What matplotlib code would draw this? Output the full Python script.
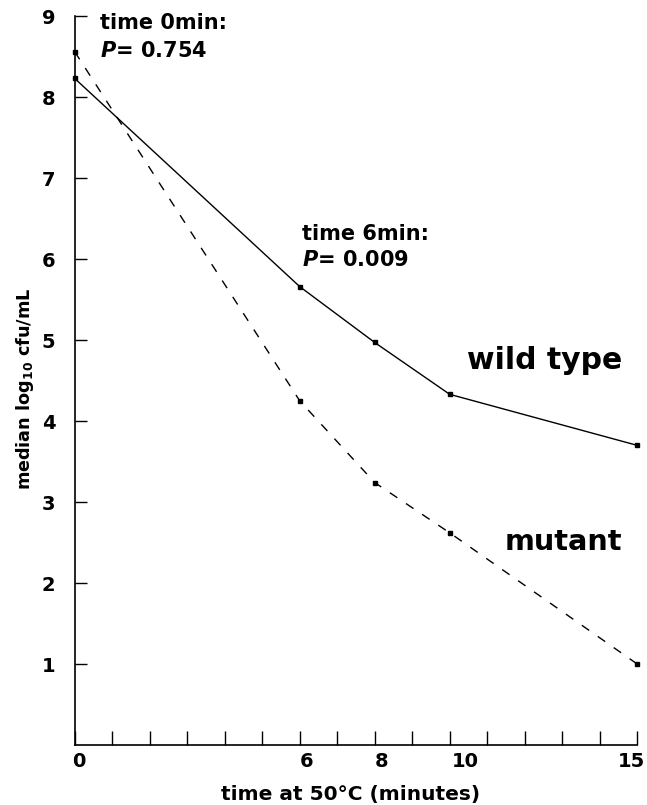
import matplotlib
matplotlib.use('Agg')
import matplotlib.pyplot as plt
import matplotlib.transforms as mtransforms

# median log10 cfu/mL
time_min = [0, 6, 8, 10, 15]
wild_type = [8.23, 5.66, 4.97, 4.33, 3.70]
mutant = [8.56, 4.25, 3.24, 2.62, 1.00]

x_ticks = list(range(16))
x_tick_labels = ['0', '', '', '', '', '', '6', '', '8', '', '10', '', '', '', '', '15']
y_ticks = [1, 2, 3, 4, 5, 6, 7, 8, 9]
y_tick_labels = ['1', '2', '3', '4', '5', '6', '7', '8', '9']

plt.rcParams['font.family'] = ['DejaVu Sans']
plt.rcParams['font.weight'] = 'bold'
plt.rcParams['mathtext.fontset'] = 'dejavusans'

fig = plt.figure(figsize=(6.47, 8.05), dpi=100)
ax = fig.add_axes([0.1155, 0.0745, 0.8694, 0.9055])

ax.plot(time_min, wild_type, '-', color='black', lw=1.0,
		marker='s', ms=3, clip_on=False)
ax.plot(time_min, mutant, color='black', lw=1.0, dashes=(6.5, 7.5),
		marker='s', ms=3, clip_on=False)

ax.set_xlim(0, 15)
ax.set_ylim(0, 9)
for side in ['top', 'right']:
	ax.spines[side].set_visible(False)
for side in ['left', 'bottom']:
	ax.spines[side].set_linewidth(1.2)

ax.set_xticks(x_ticks)
ax.set_xticklabels(x_tick_labels, fontsize=14, fontweight='bold')
ax.set_yticks(y_ticks)
ax.set_yticklabels(y_tick_labels, fontsize=14, fontweight='bold')
ax.tick_params(axis='x', direction='in', length=10, width=1.0, pad=5)
ax.tick_params(axis='y', direction='in', length=8.6, width=1.0, pad=14)

# the printed x labels sit a little off their ticks
shifts = {'0': 4, '6': 7, '8': 7, '10': 16, '15': -6}
for lab in ax.get_xticklabels():
	dx = shifts.get(lab.get_text(), 0)
	lab.set_transform(lab.get_transform() + mtransforms.ScaledTranslation(dx / 100, 0, fig.dpi_scale_trans))

ax.text(0.67, 8.84, 'time 0min:', fontsize=15, fontweight='bold', va='baseline')
ax.text(0.67, 8.50, r'$\mathbfit{P}$= 0.754', fontsize=15, fontweight='bold', va='baseline')
ax.text(6.07, 6.23, 'time 6min:', fontsize=15, fontweight='bold', va='baseline')
ax.text(6.07, 5.91, r'$\mathbfit{P}$= 0.009', fontsize=15, fontweight='bold', va='baseline')
ax.text(10.47, 4.64, 'wild type', fontsize=21.5, fontweight='bold', va='baseline')
ax.text(11.47, 2.41, 'mutant', fontsize=20.7, fontweight='bold', va='baseline')

fig.text(350.5 / 647, 1 - 800 / 805, 'time at 50°C (minutes)',
		fontsize=14.5, fontweight='bold', ha='center', va='baseline')
fig.text(25 / 647, 1 - 389 / 805, r'median log$_{\mathbf{10}}$ cfu/mL',
		fontsize=12.7, fontweight='bold', rotation=90, ha='center', va='center')

fig.savefig('out.png', dpi=100)
